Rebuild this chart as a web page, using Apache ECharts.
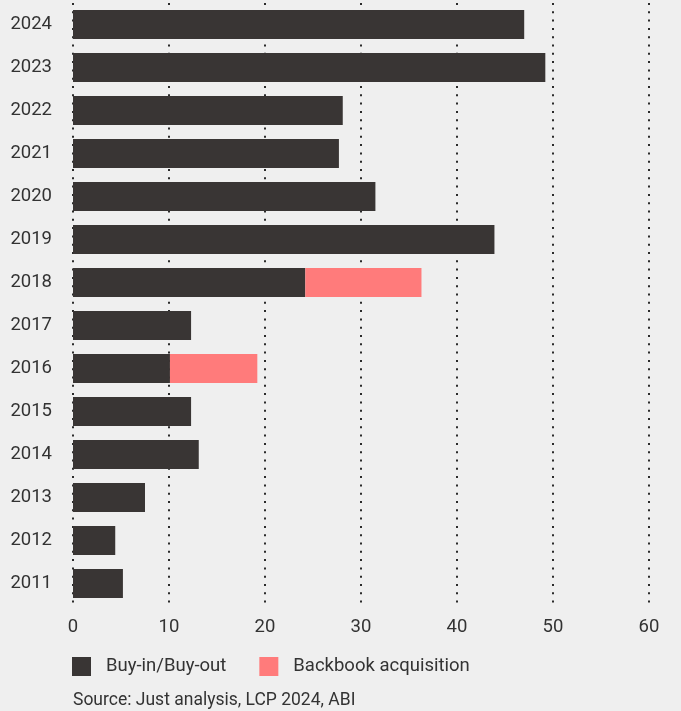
<!DOCTYPE html>
<html>
<head>
<meta charset="utf-8">
<script src="https://cdn.jsdelivr.net/npm/echarts@6/dist/echarts.min.js"></script>
<style>
  html, body { margin: 0; padding: 0; background: #efefef; }
  #chart { width: 681px; height: 711px; }
</style>
</head>
<body>
<div id="chart"></div>
<script>
// Years, bottom to top on the category axis
const years = ['2011','2012','2013','2014','2015','2016','2017','2018','2019','2020','2021','2022','2023','2024'];
// Buy-in / buy-out volumes (£bn)
const buyInOut = [5.2, 4.4, 7.5, 13.1, 12.3, 10.1, 12.3, 24.2, 43.9, 31.5, 27.7, 28.1, 49.2, 47.0];
// Backbook acquisitions (£bn)
const backbook = [0, 0, 0, 0, 0, 9.1, 0, 12.1, 0, 0, 0, 0, 0, 0];
const xTicks = [0, 10, 20, 30, 40, 50, 60];

const textColor = '#333333';
const fontFamily = 'Roboto, "Noto Sans", sans-serif';

const chart = echarts.init(document.getElementById('chart'));
chart.setOption({
  backgroundColor: '#efefef',
  animation: false,
  textStyle: { fontFamily: fontFamily },
  grid: { left: 73, right: 32, top: 3, bottom: 106, containLabel: false },
  xAxis: {
    type: 'value',
    min: xTicks[0],
    max: xTicks[xTicks.length - 1],
    interval: 10,
    axisLine: { show: false },
    axisTick: { show: false },
    axisLabel: { color: textColor, fontSize: 18.5, margin: 13, fontFamily: fontFamily },
    splitLine: {
      show: true,
      lineStyle: { color: '#2a2a2a', width: 2, type: [2, 6.3] }
    }
  },
  yAxis: {
    type: 'category',
    data: years,
    axisLine: { show: false },
    axisTick: { show: false },
    axisLabel: { color: textColor, fontSize: 18.5, margin: 21, fontFamily: fontFamily }
  },
  legend: {
    left: 67,
    top: 652,
    icon: 'rect',
    itemWidth: 19,
    itemHeight: 19,
    itemGap: 33,
    // a fixed-width spacer token widens the gap between swatch and label
    formatter: '{s| }{t|{name}}',
    textStyle: {
      color: textColor,
      fontSize: 18.5,
      fontFamily: fontFamily,
      rich: {
        s: { width: 10, fontSize: 18.5 },
        t: { color: textColor, fontSize: 18.5, fontFamily: fontFamily }
      }
    },
    data: ['Buy-in/Buy-out', 'Backbook acquisition']
  },
  title: {
    text: 'Source: Just analysis, LCP 2024, ABI',
    left: 68,
    top: 687,
    textStyle: { color: textColor, fontSize: 17.5, fontWeight: 'normal', fontFamily: fontFamily }
  },
  series: [
    {
      name: 'Buy-in/Buy-out',
      type: 'bar',
      stack: 'total',
      data: buyInOut,
      barCategoryGap: '32%',
      itemStyle: { color: '#393534' }
    },
    {
      name: 'Backbook acquisition',
      type: 'bar',
      stack: 'total',
      data: backbook,
      barCategoryGap: '32%',
      itemStyle: { color: '#ff7b7b' }
    }
  ]
});
</script>
</body>
</html>
